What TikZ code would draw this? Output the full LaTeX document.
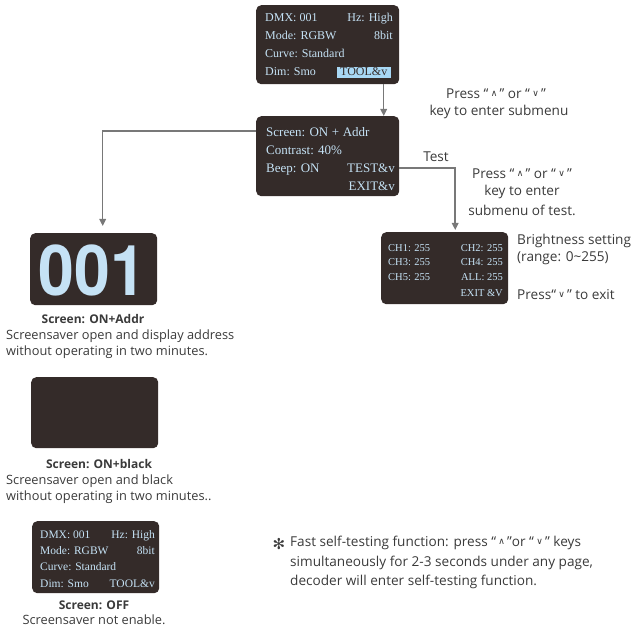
\documentclass[tikz,border=0pt]{standalone}
\usepackage{fontspec}
\setmainfont{Liberation Serif}
\newfontfamily\ann{Open Sans}
\newfontfamily\symf{DejaVu Sans}
\newfontfamily\bignum{TeX Gyre Heros}
\usetikzlibrary{arrows.meta}
\definecolor{scr}{HTML}{342B29}
\definecolor{lb}{HTML}{C5E2F5}
\definecolor{hl}{HTML}{A8D8F5}
\definecolor{tx}{HTML}{3A3A3A}
\definecolor{ln}{HTML}{787878}
\newcommand\kup{\,\raisebox{2pt}{\symf\fontsize{9}{9}\selectfont ∧}\,}
\newcommand\kdn{\,\raisebox{2pt}{\symf\fontsize{9}{9}\selectfont ∨}\,}
\begin{document}
\begin{tikzpicture}[x=1pt,y=-1pt,
  screen/.style={fill=scr, rounded corners=5pt, draw=none, anchor=north west, inner sep=0pt},
  lt/.style={text=lb, anchor=base west, inner sep=0pt, font=\fontsize{12}{12}\selectfont},
  rt/.style={lt, anchor=base east},
  mt/.style={text=lb, anchor=base west, inner sep=0pt, font=\fontsize{13}{13}\selectfont},
  mrt/.style={mt, anchor=base east},
  st/.style={text=lb, anchor=base west, inner sep=0pt, font=\fontsize{10.5}{10.5}\selectfont},
  srt/.style={st, anchor=base east},
  bt/.style={text=lb, anchor=base west, inner sep=0pt, font=\fontsize{11.5}{11.5}\selectfont},
  brt/.style={bt, anchor=base east},
  an/.style={text=tx, inner sep=0pt, font=\ann\fontsize{12.8}{12.8}\selectfont},
  anr/.style={text=tx, inner sep=0pt, font=\ann\fontsize{13.6}{13.6}\selectfont},
  anb/.style={an, font=\ann\bfseries\fontsize{12}{12}\selectfont},
  conn/.style={draw=ln, line width=1.5pt, -{Triangle[length=7pt,width=6.5pt]}}
]
\useasboundingbox (0,0) rectangle (640,628);
% ---------- top menu screen
\node[screen, minimum width=143, minimum height=79] (top) at (256,5) {};
\node[lt] (t1) at (265,22) {DMX: 001};
\node[rt] (t2) at (393,22) {Hz: High};
\node[lt] (t3) at (265,40) {Mode: RGBW};
\node[rt] (t4) at (393,40) {8bit};
\node[lt] (t5) at (265,58) {Curve: Standard};
\node[lt] (t6) at (265,76) {Dim: Smo};
\node[rt, fill=hl, text=scr, inner xsep=3.5pt, inner ysep=1.5pt] (tool) at (391,76) {TOOL\&v};
% ---------- tool menu screen
\node[screen, minimum width=143, minimum height=80] (menu) at (256,116) {};
\node[mt] (m1) at (266,137) {Screen: ON\;+\;Addr};
\node[mt] (m2) at (266,155) {Contrast: 40\%};
\node[mt] (m3) at (266,173) {Beep: ON};
\node[mrt] (m4) at (395,173) {TEST\&v};
\node[mrt] (m5) at (395,191) {EXIT\&v};
% ---------- test screen
\node[screen, minimum width=127, minimum height=72] (test) at (381,232) {};
\node[st] (c1) at (388,252) {CH1: 255};
\node[srt] (c2) at (503,252) {CH2: 255};
\node[st] (c3) at (388,266) {CH3: 255};
\node[srt] (c4) at (503,266) {CH4: 255};
\node[st] (c5) at (388,281) {CH5: 255};
\node[srt] (c6) at (503,281) {ALL: 255};
\node[srt] (c7) at (503,297) {EXIT \&V};
% ---------- address screen
\node[screen, minimum width=127, minimum height=72] (addr) at (30,233) {};
\node[text=lb, inner sep=0pt, font=\bignum\bfseries\fontsize{70}{70}\selectfont] (num) at (92.5,270) {\scalebox{0.92}[1]{001}};
% ---------- black screen
\node[screen, minimum width=127, minimum height=71] (blk) at (31,377) {};
% ---------- off screen
\node[screen, minimum width=127, minimum height=72] (off) at (32,521) {};
\node[bt] (o1) at (40,538) {DMX: 001};
\node[brt] (o2) at (155,538) {Hz: High};
\node[bt] (o3) at (40,554) {Mode: RGBW};
\node[brt] (o4) at (155,554) {8bit};
\node[bt] (o5) at (40,570) {Curve: Standard};
\node[bt] (o6) at (40,587) {Dim: Smo};
\node[brt] (o7) at (155,587) {TOOL\&v};
% ---------- connectors
\draw[conn] ([xshift=56]top.south) -- ([xshift=56]menu.north);
\draw[conn] ([yshift=25]menu.west) -| ([xshift=9,yshift=7]addr.north);
\draw[conn] ([yshift=-12]menu.east) -| ([xshift=10.5,yshift=2]test.north);
% ---------- annotations
\node[anr] (p1) at (496,94) {Press “\kup” or “\kdn”};
\node[anr] (p2) at (499,112) {key to enter submenu};
\node[anr] (tl) at (436,157) {Test};
\node[anr] (q1) at (522,174) {Press “\kup” or “\kdn”};
\node[anr] (q2) at (522,192) {key to enter};
\node[anr] (q3) at (522,210) {submenu of test.};
\node[anr, anchor=west] (b1) at (517,241) {Brightness setting};
\node[anr, anchor=west] (b2) at (517,258) {(range: 0\textasciitilde255)};
\node[anr, anchor=west] (b3) at (517,295) {Press“\kdn” to exit};
\node[anb] (h1) at (93,319) {Screen: ON+Addr};
\node[an, anchor=west] (d1) at (6,336) {Screensaver open and display address};
\node[an, anchor=west] (d2) at (6,352) {without operating in two minutes.};
\node[anb] (h2) at (99,464) {Screen: ON+black};
\node[an, anchor=west] (e1) at (6,481) {Screensaver open and black};
\node[an, anchor=west] (e2) at (6,497) {without operating in two minutes..};
\node[anb] (h3) at (94,605) {Screen: OFF};
\node[an] (f1) at (94,620) {Screensaver not enable.};
\node[an, font=\symf\bfseries\fontsize{15}{15}\selectfont] (star) at (279,544) {✻};
\node[anr, anchor=west] (g1) at (290,543) {Fast self-testing function: press “\kup”or “\kdn” keys};
\node[anr, anchor=west] (g2) at (290,563) {simultaneously for 2-3 seconds under any page,};
\node[anr, anchor=west] (g3) at (290,582) {decoder will enter self-testing function.};
\end{tikzpicture}
\end{document}
